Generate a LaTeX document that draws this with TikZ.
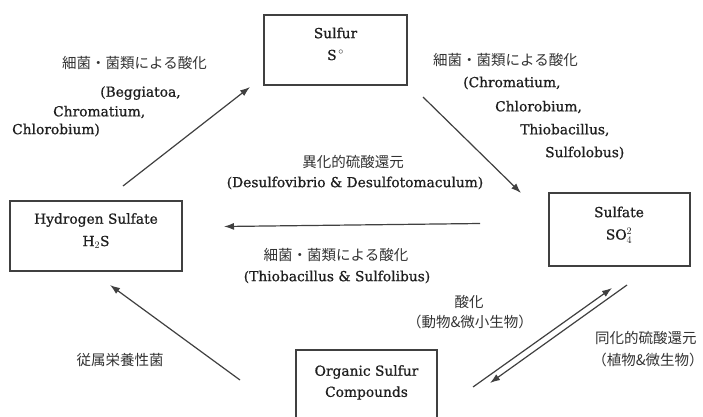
\documentclass[tikz,border=0pt]{standalone}
\usepackage{fontspec}
\setmainfont{DejaVu Serif}[FakeBold=0.8]
\newfontfamily\latf{DejaVu Serif}[FakeBold=0.8]
\newfontfamily\jp{Noto Sans CJK JP}
\usetikzlibrary{arrows.meta}
\tikzset{
  px/.style={x=1pt,y=-1pt},
  box/.style={draw=black!75, line width=1.3pt, rectangle, inner sep=0pt},
  lat/.style={font=\latf\fontsize{13.8}{15}\selectfont, text=black!88, inner sep=0pt},
  jtx/.style={font=\jp\fontsize{14.5}{16}\selectfont, text=black!80, inner sep=0pt},
  conn/.style={draw=black!75, line width=1.2pt, -{Latex[length=10pt,width=7pt]}}
}
\begin{document}
\begin{tikzpicture}[px]
\useasboundingbox (0,0) rectangle (703,416);
\fill[white] (0,0) rectangle (703,416);
% boxes
\node[box, minimum width=143pt, minimum height=70pt] (sulfur) at (335.5,50) {};
\node[box, minimum width=172pt, minimum height=70pt] (h2s) at (96,236) {};
\node[box, minimum width=141pt, minimum height=73pt] (so4) at (619.5,229.5) {};
\node[box, minimum width=141pt, minimum height=90pt] (org) at (366.5,395) {};
% box texts
\node[lat] (sulfurT1) at (335.5,33) {Sulfur};
\node[lat] (sulfurT2) at (335.5,55) {S$^{\,\circ}$};
\node[lat] (h2sT1) at (96,220) {Hydrogen Sulfate};
\node[lat] (h2sT2) at (96,242) {H$_2$S};
\node[lat] (so4T1) at (619,212) {Sulfate};
\node[lat, text height=9pt, text depth=2pt] (so4T2) at (619,236) {SO$_4^{2}$};
\node[lat] (orgT1) at (366.5,372) {Organic Sulfur};
\node[lat] (orgT2) at (366.5,393) {Compounds};
% connector end points
\coordinate (a1s) at (123,186); \coordinate (a1e) at (250,87);
\coordinate (a2s) at (423,97);  \coordinate (a2e) at (521,193);
\coordinate (a3s) at (480,223.5); \coordinate (a3e) at (224,226.5);
\coordinate (a4s) at (240,380); \coordinate (a4e) at (110,285);
\coordinate (a5s) at (473,387); \coordinate (a5e) at (612,288);
\coordinate (a6s) at (627,285); \coordinate (a6e) at (490,383);
\draw[conn] (a1s) -- (a1e);
\draw[conn] (a2s) -- (a2e);
\draw[conn] (a3s) -- (a3e);
\draw[conn] (a4s) -- (a4e);
\draw[conn] (a5s) -- (a5e);
\draw[conn] (a6s) -- (a6e);
% left upper label
\node[jtx, anchor=west] (l1) at (62,63) {細菌・菌類による酸化};
\node[lat, anchor=west] (l2) at (100,93) {(Beggiatoa,};
\node[lat, anchor=west] (l3) at (53,112) {Chromatium,};
\node[lat, anchor=west] (l4) at (12,130) {Chlorobium)};
% right upper label
\node[jtx, anchor=west] (r1) at (433,60) {細菌・菌類による酸化};
\node[lat, anchor=west] (r2) at (463,83) {(Chromatium,};
\node[lat, anchor=west] (r3) at (495,107) {Chlorobium,};
\node[lat, anchor=west] (r4) at (520,130) {Thiobacillus,};
\node[lat, anchor=west] (r5) at (545,153) {Sulfolobus)};
% centre labels
\node[jtx] (c1) at (353,162) {異化的硫酸還元};
\node[lat] (c2) at (355,183) {(Desulfovibrio \& Desulfotomaculum)};
\node[jtx] (c3) at (336,255) {細菌・菌類による酸化};
\node[lat] (c4) at (337,277) {(Thiobacillus \& Sulfolibus)};
% lower labels
\node[jtx] (o1) at (469,302) {酸化};
\node[jtx] (o2) at (470,322) {（動物\&微小生物）};
\node[jtx, anchor=west] (d1) at (595,338) {同化的硫酸還元};
\node[jtx] (d2) at (648,360) {（植物\&微生物）};
\node[jtx] (h1) at (120,360) {従属栄養性菌};
\end{tikzpicture}
\end{document}
